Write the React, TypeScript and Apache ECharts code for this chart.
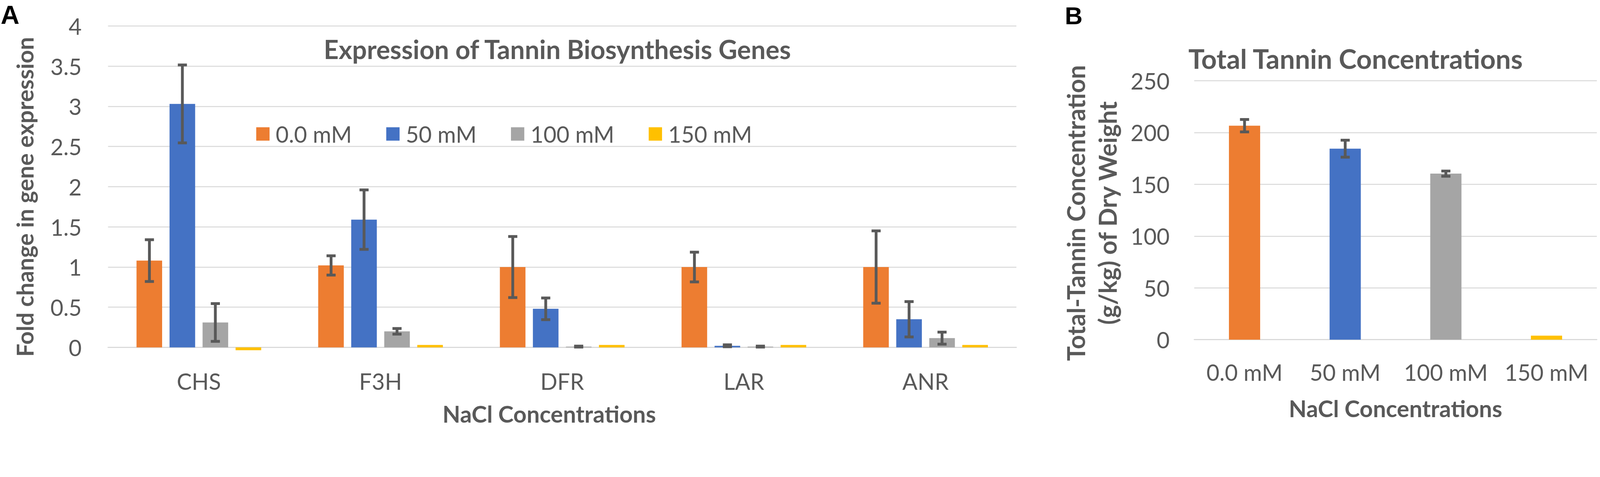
import React, { useEffect, useRef, useState } from "react";
import * as echarts from "echarts";

const categoriesA = ["CHS", "F3H", "DFR", "LAR", "ANR"];
const seriesNames = ["0.0 mM", "50 mM", "100 mM", "150 mM"];
const seriesColors = ["#ED7D31", "#4472C4", "#A5A5A5", "#FFC000"];

const values0 = [1.08, 1.02, 1.0, 1.0, 1.0];
const errors0 = [0.26, 0.12, 0.38, 0.185, 0.45];
const values50 = [3.03, 1.59, 0.48, 0.02, 0.35];
const errors50 = [0.485, 0.37, 0.135, 0.012, 0.22];
const values100 = [0.31, 0.2, 0.01, 0.01, 0.115];
const errors100 = [0.235, 0.035, 0.006, 0.006, 0.075];
const values150 = [-0.035, 0.03, 0.03, 0.03, 0.03];

const yTicksA = { min: 0, max: 4, interval: 0.5 };

const categoriesB = ["0.0 mM", "50 mM", "100 mM", "150 mM"];
const tanninValues = [206.6, 184.4, 160.3, 3.9];
const tanninErrors = [6, 8.2, 2.5, 0];
const yTicksB = { min: 0, max: 250, interval: 50 };

const FONT = "Lato, 'Open Sans', sans-serif";
const TXT = "#595959";
const GRID = "#D9D9D9";
const ERR = "#595959";

const W = 4562;
const H = 1220;

function errorRender(offsetPx: number, s: number) {
  return (params: any, api: any) => {
    const x = api.value(0);
    const v = api.value(1);
    const e = api.value(2);
    if (!e) return null;
    const top = api.coord([x, v + e]);
    const bot = api.coord([x, v - e]);
    const cx = top[0] + offsetPx * s;
    const hw = 13 * s;
    const style = { stroke: ERR, lineWidth: 8 * s };
    return {
      type: "group",
      children: [
        { type: "line", shape: { x1: cx, y1: top[1], x2: cx, y2: bot[1] }, style },
        { type: "line", shape: { x1: cx - hw, y1: top[1], x2: cx + hw, y2: top[1] }, style },
        { type: "line", shape: { x1: cx - hw, y1: bot[1], x2: cx + hw, y2: bot[1] }, style },
      ],
    };
  };
}

function buildOption(s: number): any {
  const k = (v: number) => v * s;
  const BAR_W_A = 73;
  const BAR_GAP_A = 21;

  const valsA = [values0, values50, values100, values150];
  const errsA: (number[] | null)[] = [errors0, errors50, errors100, null];

  const barSeriesA = seriesNames.map((name, i) => ({
    name,
    type: "bar",
    xAxisIndex: 0,
    yAxisIndex: 0,
    barWidth: k(BAR_W_A),
    barGap: `${Math.round((BAR_GAP_A / BAR_W_A) * 100)}%`,
    clip: false,
    itemStyle: { color: seriesColors[i] },
    data: valsA[i],
  }));

  const errSeriesA: any[] = [];
  errsA.forEach((errs, i) => {
    if (!errs) return;
    errSeriesA.push({
      type: "custom",
      xAxisIndex: 0,
      yAxisIndex: 0,
      z: 5,
      clip: false,
      renderItem: errorRender((i - 1.5) * (BAR_W_A + BAR_GAP_A), s),
      data: categoriesA.map((_, j) => [j, valsA[i][j], errs[j]]),
    });
  });

  const axisLabel = { color: TXT, fontFamily: FONT, fontSize: k(64) };
  const nameStyle = { color: TXT, fontFamily: FONT, fontSize: k(66), fontWeight: "bold" as const };

  return {
    animation: false,
    backgroundColor: "#ffffff",
    grid: [
      { left: k(308), right: k(W - 2898), top: k(74), bottom: k(H - 990), containLabel: false },
      { left: k(3405), right: k(W - 4553), top: k(230), bottom: k(H - 968), containLabel: false },
    ],
    legend: {
      data: seriesNames,
      left: k(725),
      top: k(344),
      itemWidth: k(38),
      itemHeight: k(38),
      itemGap: k(98),
      icon: "rect",
      textStyle: {
        color: TXT,
        fontFamily: FONT,
        fontSize: k(64),
        lineHeight: k(64),
        padding: [0, 0, 0, k(12)],
      },
    },
    xAxis: [
      {
        type: "category",
        gridIndex: 0,
        data: categoriesA,
        axisTick: { show: false },
        axisLine: { show: true, lineStyle: { color: GRID, width: k(3) } },
        axisLabel: { ...axisLabel, margin: k(64), interval: 0 },
        name: "NaCl Concentrations",
        nameLocation: "middle",
        nameGap: k(156),
        nameTextStyle: { ...nameStyle, padding: [0, k(74), 0, 0] },
      },
      {
        type: "category",
        gridIndex: 1,
        data: categoriesB,
        axisTick: { show: false },
        axisLine: { show: true, lineStyle: { color: GRID, width: k(3) } },
        axisLabel: { ...axisLabel, margin: k(60), interval: 0, hideOverlap: false },
        name: "NaCl Concentrations",
        nameLocation: "middle",
        nameGap: k(163),
        nameTextStyle: { ...nameStyle },
      },
    ],
    yAxis: [
      {
        type: "value",
        gridIndex: 0,
        min: yTicksA.min,
        max: yTicksA.max,
        interval: yTicksA.interval,
        axisLine: { show: false },
        axisTick: { show: false },
        splitLine: { show: true, lineStyle: { color: GRID, width: k(3) } },
        axisLabel: { ...axisLabel, margin: k(75) },
        name: "Fold change in gene expression",
        nameLocation: "middle",
        nameGap: k(204),
        nameTextStyle: { ...nameStyle, padding: [0, k(58), 0, 0] },
      },
      {
        type: "value",
        gridIndex: 1,
        min: yTicksB.min,
        max: yTicksB.max,
        interval: yTicksB.interval,
        axisLine: { show: false },
        axisTick: { show: false },
        splitLine: { show: true, lineStyle: { color: GRID, width: k(3) } },
        axisLabel: { ...axisLabel, margin: k(70) },
        name: "Total-Tannin Concentration\n(g/kg) of Dry Weight",
        nameLocation: "middle",
        nameGap: k(203),
        nameTextStyle: { ...nameStyle, fontSize: k(70), lineHeight: k(90), padding: [0, k(16), 0, 0] },
      },
    ],
    series: [
      ...barSeriesA,
      ...errSeriesA,
      {
        name: "Total Tannin",
        type: "bar",
        xAxisIndex: 1,
        yAxisIndex: 1,
        barWidth: k(89),
        data: tanninValues.map((v, i) => ({ value: v, itemStyle: { color: seriesColors[i] } })),
      },
      {
        type: "custom",
        xAxisIndex: 1,
        yAxisIndex: 1,
        z: 5,
        renderItem: errorRender(0, s),
        data: categoriesB.map((_, j) => [j, tanninValues[j], tanninErrors[j]]),
      },
    ],
    graphic: [
      {
        type: "text",
        x: k(1589),
        y: k(139),
        style: {
          text: "Expression of Tannin Biosynthesis Genes",
          fill: TXT,
          fontFamily: FONT,
          fontSize: k(74),
          fontWeight: "bold",
          textAlign: "center",
          textVerticalAlign: "middle",
        },
      },
      {
        type: "text",
        x: k(3865),
        y: k(167),
        style: {
          text: "Total Tannin Concentrations",
          fill: TXT,
          fontFamily: FONT,
          fontSize: k(77),
          fontWeight: "bold",
          textAlign: "center",
          textVerticalAlign: "middle",
        },
      },
      {
        type: "text",
        x: k(2),
        y: k(42),
        style: {
          text: "A",
          fill: "#000000",
          fontFamily: "'Liberation Sans', Arial, sans-serif",
          fontSize: k(74),
          fontWeight: "bold",
          textAlign: "left",
          textVerticalAlign: "middle",
        },
      },
      {
        type: "text",
        x: k(3036),
        y: k(44),
        style: {
          text: "B",
          fill: "#000000",
          fontFamily: "'Liberation Sans', Arial, sans-serif",
          fontSize: k(70),
          fontWeight: "bold",
          textAlign: "left",
          textVerticalAlign: "middle",
        },
      },
    ],
  };
}

function getScale(): number {
  const iw = window.innerWidth || W;
  const ih = window.innerHeight || H;
  return Math.min(1, iw / W, ih / H);
}

export default function App() {
  const ref = useRef<HTMLDivElement>(null);
  const [scale] = useState<number>(() => {
    document.body.style.margin = "0";
    document.body.style.overflow = "hidden";
    return getScale();
  });

  useEffect(() => {
    if (!ref.current) return;
    const chart = echarts.init(ref.current, undefined, { renderer: "svg" });
    chart.setOption(buildOption(scale));
    return () => chart.dispose();
  }, [scale]);

  return (
    <div
      ref={ref}
      style={{ width: Math.floor(W * scale), height: Math.floor(H * scale), overflow: "hidden" }}
    />
  );
}
